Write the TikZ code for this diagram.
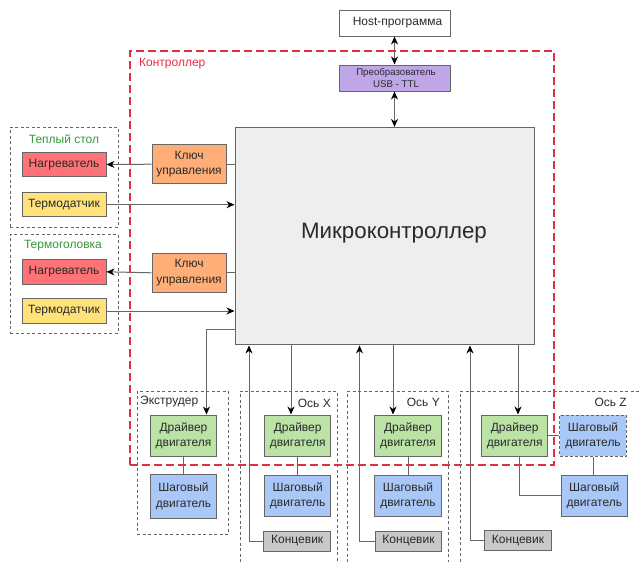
\documentclass[tikz,border=0pt]{standalone}
\usepackage{fontspec}
\setmainfont{Liberation Sans}
\usetikzlibrary{arrows.meta}
\definecolor{ln}{HTML}{666666}
\definecolor{txt}{HTML}{2A2A2A}
\definecolor{hot}{HTML}{FF7378}
\definecolor{sens}{HTML}{FFE27A}
\definecolor{key}{HTML}{FFAE78}
\definecolor{drv}{HTML}{BBE3A6}
\definecolor{mot}{HTML}{A9C8F7}
\definecolor{purp}{HTML}{BFA6E6}
\definecolor{endst}{HTML}{C8C8C8}
\definecolor{mcuc}{HTML}{EEEEEE}
\definecolor{ctlred}{HTML}{E2303F}
\definecolor{grn}{HTML}{38963C}
\tikzset{
  x=1pt,y=-1pt,
  box/.style={draw=ln,line width=1pt,inner sep=0pt,align=center,text=txt,font=\fontsize{12}{15.5}\selectfont},
  hostbox/.style={box,fill=white,minimum width=111pt,minimum height=26pt},
  convbox/.style={box,fill=purp,minimum width=111pt,minimum height=26pt,font=\fontsize{9.7}{12}\selectfont},
  mcubox/.style={box,fill=mcuc,minimum width=299pt,minimum height=217.5pt},
  heatbox/.style={box,fill=hot,minimum width=84pt,minimum height=24.5pt},
  sensbox/.style={box,fill=sens,minimum width=84pt,minimum height=24.5pt},
  keybox/.style={box,fill=key,minimum width=74pt,minimum height=39.5pt},
  drvbox/.style={box,fill=drv,minimum width=66.5pt,minimum height=41pt},
  motbox/.style={box,fill=mot,minimum width=66.5pt,minimum height=41pt},
  endbox/.style={box,fill=endst,minimum width=66.5pt,minimum height=20pt},
  group/.style={draw=ln,line width=0.9pt,dash pattern=on 3pt off 2.5pt,inner sep=0pt},
  ctl/.style={draw=ctlred,line width=1.5pt,dash pattern=on 8pt off 4pt,inner sep=0pt},
  link/.style={draw=ln,line width=1pt},
  arr/.style={link,-{Stealth[black,length=8pt,width=7pt,inset=2.5pt]}},
  biarr/.style={link,{Stealth[black,length=8pt,width=7pt,inset=2.5pt]}-{Stealth[black,length=8pt,width=7pt,inset=2.5pt]}},
  lbl/.style={inner sep=0pt,text=txt,font=\fontsize{12}{15}\selectfont},
  grnlbl/.style={lbl,text=grn},
  redlbl/.style={lbl,text=ctlred},
  biglbl/.style={lbl,font=\fontsize{22.3}{25}\selectfont}
}
\begin{document}
\begin{tikzpicture}
\useasboundingbox (0,0) rectangle (639,562);
% groups
\node[group,minimum width=108pt,minimum height=100pt] (g1) at (64,177) {};
\node[group,minimum width=108pt,minimum height=99pt] (g2) at (64,283.5) {};
\node[group,minimum width=91pt,minimum height=143pt] (gE) at (182.5,462.5) {};
\draw[group] (240,562) -- (240,391) -- (337,391) -- (337,562);
\draw[group] (347.5,562) -- (347.5,391) -- (448,391) -- (448,562);
\draw[group] (639,391) -- (460,391) -- (460,562);
% boxes
\node[hostbox] (host) at (394.5,23) {\hspace*{6pt}Host-программа};
\node[convbox] (conv) at (394.5,78) {\hspace*{3pt}Преобразователь\\\hspace*{3pt}USB - TTL};
\node[mcubox] (mcu) at (384.5,236.2) {};
\node[heatbox] (h1) at (64,164.5) {Нагреватель};
\node[sensbox] (s1) at (64,204.7) {Термодатчик};
\node[heatbox] (h2) at (64,271.8) {Нагреватель};
\node[sensbox] (s2) at (64,311) {Термодатчик};
\node[keybox] (k1) at (189,164.2) {Ключ\\управления};
\node[keybox] (k2) at (189,272.8) {Ключ\\управления};
\node[drvbox] (dE) at (183.5,435.5) {Драйвер\\двигателя};
\node[motbox,minimum height=44pt] (mE) at (183.5,496) {Шаговый\\двигатель};
\node[drvbox] (dX) at (297.7,435.5) {Драйвер\\двигателя};
\node[motbox] (mX) at (297.7,495.5) {Шаговый\\двигатель};
\node[endbox] (eX) at (297.2,541) {Концевик};
\node[drvbox] (dY) at (408,435.5) {Драйвер\\двигателя};
\node[motbox] (mY) at (408,495.5) {Шаговый\\двигатель};
\node[endbox] (eY) at (408.5,541) {Концевик};
\node[drvbox] (dZ) at (514.7,435.5) {Драйвер\\двигателя};
\node[motbox,dash pattern=on 3pt off 2pt] (mZa) at (593,435.5) {Шаговый\\двигатель};
\node[motbox] (mZb) at (594.3,495.5) {Шаговый\\двигатель};
\node[endbox] (eZ) at (518,540.5) {Концевик};
% free-end helpers
\coordinate (xE) at (206.5,329);
\coordinate (xX) at (291,300);
\coordinate (xY) at (393,300);
\coordinate (xZ) at (518,300);
\coordinate (lX) at (249,300);
\coordinate (lY) at (359.5,300);
\coordinate (lZ) at (470,300);
\coordinate (zd) at (519,495.5);
% connectors
\draw[biarr] (host.south) -- (conv.north);
\draw[biarr] (conv.south) -- (conv.south |- mcu.north);
\draw[link] (k1.east) -- (mcu.west |- k1.east);
\draw[link] (k2.east) -- (mcu.west |- k2.east);
\draw[arr] (k1.west) -- (h1.east);
\draw[arr] (k2.west) -- (h2.east);
\draw[arr] (s1.east) -- (mcu.west |- s1.east);
\draw[arr] (s2.east) -- (mcu.west |- s2.east);
\draw[arr] (mcu.west |- xE) -- (xE) -- (xE |- dE.north);
\draw[arr] (xX |- mcu.south) -- (xX |- dX.north);
\draw[arr] (xY |- mcu.south) -- (xY |- dY.north);
\draw[arr] (xZ |- mcu.south) -- (xZ |- dZ.north);
\draw[arr] (eX.west) -- (lX |- eX.west) -- (lX |- mcu.south);
\draw[arr] (eY.west) -- (lY |- eY.west) -- (lY |- mcu.south);
\draw[arr] (eZ.west) -- (lZ |- eZ.west) -- (lZ |- mcu.south);
\draw[link] (dE.south) -- (mE.north);
\draw[link] (dX.south) -- (mX.north);
\draw[link] (dY.south) -- (mY.north);
\draw[link] (dZ.east) -- (mZa.west);
\draw[link] (mZa.south) -- (mZa.south |- mZb.north);
\draw[link] (zd |- dZ.south) -- (zd) -- (mZb.west);
% controller frame
\node[ctl,minimum width=424pt,minimum height=414pt] (ctl) at (342,258) {};
% labels
\node[biglbl] (tm) at (394,233) {Микроконтроллер};
\node[redlbl,anchor=west] (tc) at (139,63.5) {Контроллер};
\node[grnlbl] (t1) at (64,139) {Теплый стол};
\node[grnlbl] (t2) at (63,246) {Термоголовка};
\node[lbl,anchor=west] (tE) at (140,401.5) {Экструдер};
\node[lbl,anchor=east] (tX) at (331,403.5) {Ось X};
\node[lbl,anchor=east] (tY) at (440,402.5) {Ось Y};
\node[lbl,anchor=east] (tZ) at (627,402.5) {Ось Z};
\end{tikzpicture}
\end{document}
